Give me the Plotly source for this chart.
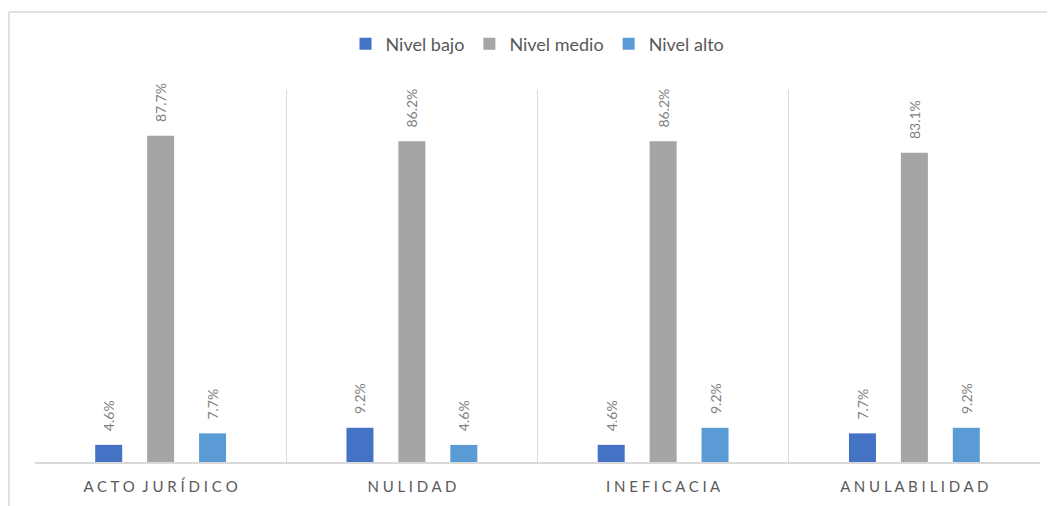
import plotly.graph_objects as go

categories = ["ACTO JURÍDICO", "NULIDAD", "INEFICACIA", "ANULABILIDAD"]
series_names = ["Nivel bajo", "Nivel medio", "Nivel alto"]
nivel_bajo = [4.6, 9.2, 4.6, 7.7]
nivel_medio = [87.7, 86.2, 86.2, 83.1]
nivel_alto = [7.7, 4.6, 9.2, 9.2]
colors = ["#4472C4", "#A5A5A5", "#5B9BD5"]


def spaced(s):
    return "\u2002".join(" ".join(list(w)) for w in s.split(" "))


tick_text = [spaced(c) for c in categories]

OFF = 8  # page body margin
W, H = 1055 - OFF, 506 - OFF
ml, mr, mt, mb = 35 - OFF, 15, 90 - OFF, 44
pw, ph = W - ml - mr, H - mt - mb

fig = go.Figure()
for name, vals, col in zip(series_names, [nivel_bajo, nivel_medio, nivel_alto], colors):
    fig.add_trace(go.Bar(
        x=categories, y=vals, name=name, marker=dict(color=col, line=dict(width=0)),
        text=[f"{v:.1f}%" for v in vals],
        texttemplate="\u00a0\u00a0\u00a0%{text}",
        textposition="outside", textangle=-90, constraintext="none",
        textfont=dict(color="#7F7F7F", size=14, family="Lato"),
        cliponaxis=False,
    ))


def px_x(p):
    return (p - OFF - ml) / pw


def px_y(p):
    return (H - mb - (p - OFF)) / ph


fig.update_layout(
    width=W, height=H,
    margin=dict(l=ml, r=mr, t=mt, b=mb),
    barmode="group", bargap=0.38, bargroupgap=0.48,
    paper_bgcolor="white", plot_bgcolor="white",
    font=dict(family="Lato", color="#595959"),
    legend=dict(orientation="h", x=0.5, xanchor="center", y=px_y(44), yanchor="middle",
                font=dict(size=18, color="#595959"), itemwidth=30, traceorder="normal"),
    xaxis=dict(tickvals=categories, ticktext=tick_text, tickson="boundaries",
               showgrid=True, gridcolor="#D9D9D9", gridwidth=1,
               showline=True, linecolor="#D9D9D9", linewidth=1.5,
               ticks="", tickfont=dict(size=15, color="#595959"), ticklabelstandoff=10),
    yaxis=dict(range=[0, 100], visible=False, showgrid=False),
    showlegend=True,
    shapes=[
        dict(type="line", xref="paper", yref="paper", x0=px_x(9), x1=px_x(1056),
             y0=px_y(12), y1=px_y(12), line=dict(color="#D9D9D9", width=1.5)),
        dict(type="line", xref="paper", yref="paper", x0=px_x(9), x1=px_x(9),
             y0=px_y(12), y1=px_y(507), line=dict(color="#D9D9D9", width=1.5)),
    ],
)

fig.write_html("out.html")
